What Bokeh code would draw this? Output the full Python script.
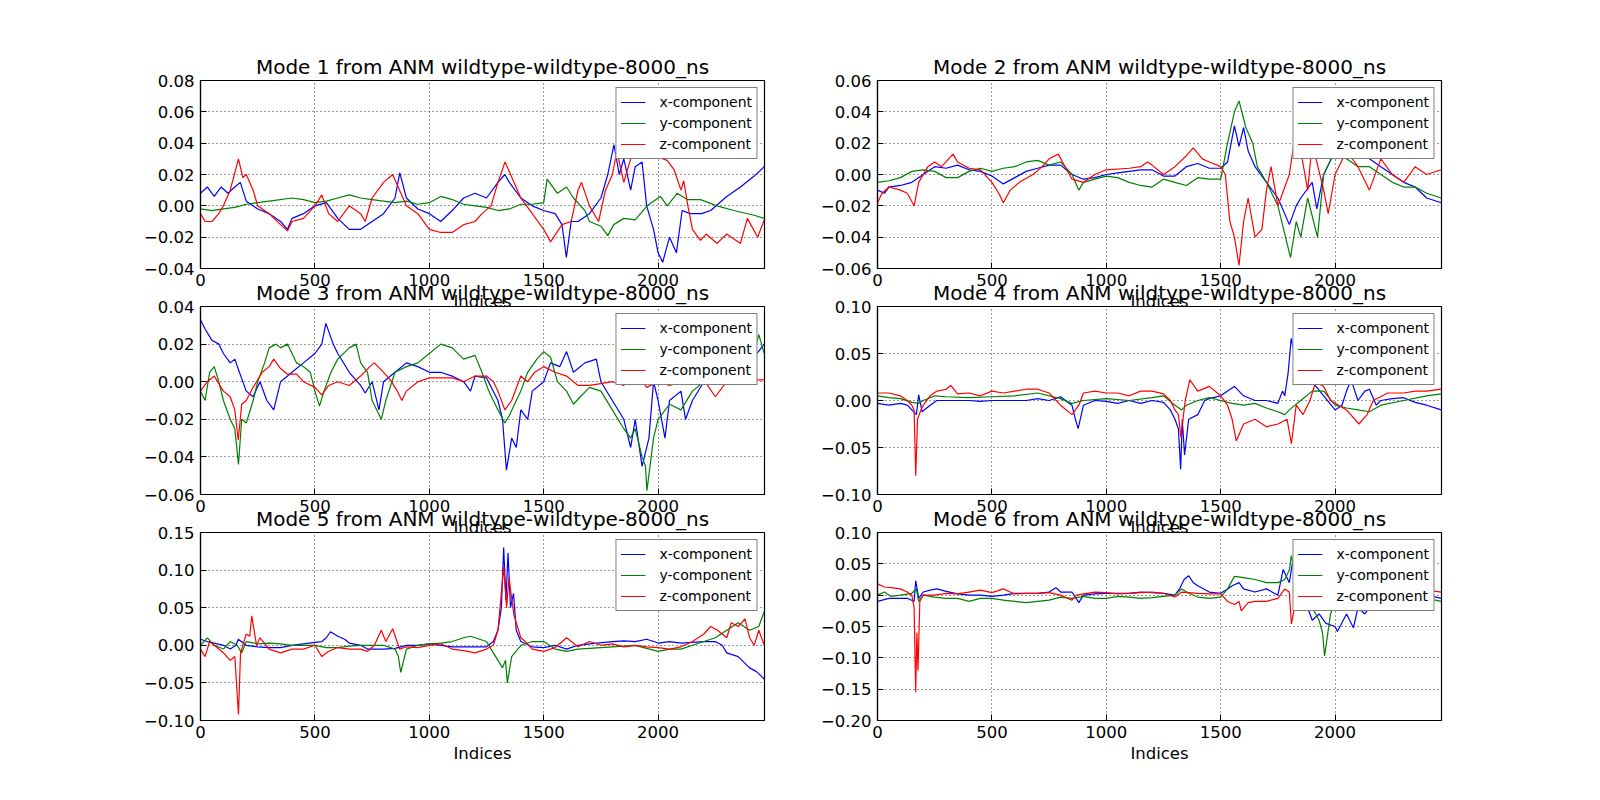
from bokeh.plotting import figure
from bokeh.layouts import column, row
from bokeh.models import (Range1d, FixedTicker, CustomJSTickFormatter,
                          Legend, LegendItem)
from bokeh.embed import file_html
from bokeh.resources import INLINE

# ---------------- data ----------------
X_END = 2465
x_ticks = [0, 500, 1000, 1500, 2000]
titles = ["Mode %d from ANM wildtype-wildtype-8000_ns" % i for i in range(1, 7)]
labels = ["x-component", "y-component", "z-component"]
x_label = "Indices"

m1_yticks = [-0.04, -0.02, 0.0, 0.02, 0.04, 0.06, 0.08]
m2_yticks = [-0.06, -0.04, -0.02, 0.0, 0.02, 0.04, 0.06]
m3_yticks = [-0.06, -0.04, -0.02, 0.0, 0.02, 0.04]
m4_yticks = [-0.10, -0.05, 0.0, 0.05, 0.10]
m5_yticks = [-0.10, -0.05, 0.0, 0.05, 0.10, 0.15]
m6_yticks = [-0.20, -0.15, -0.10, -0.05, 0.0, 0.05, 0.10]

m1_x = [(0,0.008),(30,0.012),(60,0.006),(90,0.012),(120,0.008),(150,0.012),(174,0.015),(200,0.003),(250,-0.002),(300,-0.005),(350,-0.01),(380,-0.015),(400,-0.008),(450,-0.005),(500,0.0),(550,0.002),(600,-0.008),(650,-0.015),(700,-0.015),(750,-0.01),(800,-0.005),(850,0.005),(871,0.021),(900,0.005),(950,-0.002),(1000,-0.005),(1050,-0.01),(1100,-0.003),(1150,0.005),(1200,0.008),(1250,0.005),(1300,0.015),(1330,0.02),(1350,0.015),(1400,0.005),(1450,0.0),(1500,-0.003),(1550,-0.005),(1580,-0.012),(1599,-0.033),(1620,-0.01),(1650,-0.01),(1700,-0.005),(1750,0.005),(1780,0.02),(1807,0.039),(1830,0.02),(1850,0.03),(1880,0.01),(1900,0.025),(1930,0.028),(1950,0.0),(1980,-0.015),(2000,-0.03),(2020,-0.036),(2050,-0.02),(2080,-0.03),(2105,-0.003),(2140,-0.005),(2190,-0.005),(2230,-0.003),(2300,0.006),(2360,0.012),(2420,0.019),(2464,0.025)]
m1_y = [(0,-0.002),(50,-0.003),(100,-0.002),(150,-0.001),(200,0.001),(250,0.002),(300,0.003),(400,0.005),(450,0.004),(500,0.002),(550,0.003),(600,0.005),(650,0.007),(700,0.005),(750,0.004),(800,0.003),(850,0.002),(900,0.003),(950,0.001),(1000,0.002),(1050,0.006),(1100,0.004),(1150,0.001),(1200,0.0),(1250,-0.001),(1300,-0.003),(1350,-0.002),(1400,0.001),(1450,0.001),(1500,0.002),(1515,0.017),(1560,0.008),(1600,0.012),(1630,0.005),(1680,-0.003),(1700,-0.01),(1750,-0.013),(1780,-0.019),(1806,-0.012),(1850,-0.008),(1900,-0.009),(1952,0.0),(2010,0.006),(2040,0.0),(2083,0.008),(2127,0.004),(2185,0.004),(2258,0.0),(2330,-0.003),(2420,-0.006),(2464,-0.008)]
m1_z = [(0,-0.005),(20,-0.01),(50,-0.01),(80,-0.005),(100,0.0),(130,0.01),(166,0.03),(185,0.018),(200,0.02),(230,0.01),(250,0.0),(300,-0.005),(350,-0.012),(380,-0.016),(400,-0.01),(450,-0.008),(500,0.0),(530,0.007),(560,-0.005),(600,-0.01),(650,0.0),(700,-0.005),(720,-0.01),(750,0.005),(800,0.015),(840,0.02),(870,0.01),(900,0.0),(950,-0.005),(1000,-0.015),(1050,-0.017),(1100,-0.017),(1150,-0.012),(1200,-0.01),(1230,-0.005),(1270,0.0),(1300,0.015),(1331,0.028),(1370,0.015),(1400,0.005),(1450,-0.005),(1500,-0.015),(1530,-0.023),(1580,-0.012),(1620,-0.01),(1650,0.01),(1665,0.015),(1700,0.0),(1740,-0.01),(1770,0.01),(1800,0.02),(1820,0.035),(1850,0.015),(1880,0.03),(1920,0.04),(1960,0.035),(2000,0.031),(2040,0.029),(2070,0.023),(2100,0.01),(2112,0.016),(2130,0.0),(2150,-0.015),(2185,-0.022),(2210,-0.018),(2258,-0.024),(2300,-0.018),(2360,-0.024),(2390,-0.008),(2435,-0.02),(2464,-0.009)]

m2_x = [(0,-0.01),(30,-0.012),(50,-0.008),(100,-0.007),(150,-0.005),(200,0.0),(250,0.005),(300,0.004),(350,0.006),(400,0.003),(450,0.002),(500,-0.001),(550,-0.006),(600,-0.002),(650,0.002),(700,0.004),(750,0.006),(800,0.006),(850,0.0),(900,-0.003),(950,-0.002),(1000,0.0),(1050,0.001),(1100,0.002),(1150,0.003),(1200,0.003),(1250,-0.001),(1300,-0.001),(1350,0.005),(1400,0.007),(1450,0.004),(1500,0.004),(1530,0.008),(1560,0.031),(1580,0.018),(1600,0.03),(1620,0.015),(1650,0.005),(1700,-0.005),(1750,-0.015),(1800,-0.032),(1830,-0.02),(1850,-0.015),(1900,-0.005),(1920,-0.022),(1950,0.0),(2000,0.015),(2050,0.01),(2100,0.015),(2150,0.01),(2200,0.005),(2250,0.0),(2300,-0.005),(2350,-0.008),(2400,-0.015),(2464,-0.018)]
m2_y = [(0,-0.005),(50,-0.004),(100,-0.002),(150,0.002),(200,0.003),(250,0.002),(300,-0.002),(350,-0.002),(400,0.002),(450,0.004),(500,0.002),(550,0.004),(600,0.005),(650,0.008),(700,0.009),(750,0.006),(800,0.008),(850,0.0),(880,-0.01),(900,-0.005),(950,-0.003),(1000,-0.001),(1050,-0.002),(1100,-0.005),(1150,-0.007),(1200,-0.008),(1250,-0.003),(1300,-0.005),(1350,-0.007),(1400,-0.002),(1450,-0.003),(1500,-0.003),(1530,0.02),(1560,0.04),(1580,0.047),(1610,0.03),(1640,0.02),(1660,0.005),(1700,-0.005),(1750,-0.02),(1805,-0.053),(1830,-0.03),(1850,-0.04),(1880,-0.015),(1923,-0.04),(1950,0.0),(2000,0.015),(2050,0.01),(2100,0.005),(2150,0.005),(2200,0.0),(2250,-0.005),(2300,-0.008),(2350,-0.008),(2400,-0.012),(2464,-0.015)]
m2_z = [(0,-0.018),(20,-0.012),(50,-0.008),(100,-0.01),(130,-0.012),(160,-0.02),(180,-0.005),(220,0.005),(250,0.008),(280,0.005),(330,0.013),(350,0.008),(400,0.004),(450,0.003),(500,-0.005),(530,-0.012),(550,-0.018),(580,-0.01),(620,-0.005),(680,0.0),(720,0.005),(750,0.01),(790,0.013),(820,0.005),(850,-0.003),(900,-0.005),(950,0.0),(1000,0.003),(1100,0.004),(1150,0.005),(1180,0.008),(1200,0.006),(1250,0.0),(1300,0.005),(1350,0.012),(1380,0.017),(1420,0.01),(1450,0.008),(1500,0.005),(1520,0.0),(1540,-0.03),(1560,-0.04),(1580,-0.058),(1600,-0.03),(1620,-0.015),(1650,-0.04),(1680,-0.035),(1700,-0.01),(1720,0.005),(1750,-0.02),(1800,0.0),(1820,0.02),(1850,0.015),(1880,-0.01),(1900,0.02),(1950,-0.01),(1970,-0.025),(2000,0.0),(2050,0.015),(2100,0.005),(2150,-0.01),(2200,0.01),(2250,0.0),(2300,-0.005),(2350,0.005),(2400,0.0),(2464,0.003)]

m3_x = [(0,0.033),(20,0.028),(50,0.022),(80,0.02),(100,0.015),(130,0.01),(150,0.012),(170,0.005),(200,-0.005),(230,-0.008),(260,0.0),(290,-0.01),(320,-0.015),(350,0.0),(400,0.005),(450,0.01),(500,0.015),(530,0.02),(548,0.031),(580,0.02),(600,0.015),(650,0.005),(700,-0.002),(720,-0.006),(750,0.0),(780,-0.015),(800,0.0),(850,0.005),(900,0.01),(950,0.008),(1000,0.005),(1050,0.005),(1100,0.003),(1150,0.0),(1180,-0.005),(1200,0.003),(1250,0.002),(1300,-0.01),(1320,-0.02),(1337,-0.047),(1360,-0.03),(1380,-0.035),(1400,-0.015),(1430,-0.02),(1450,-0.005),(1500,0.0),(1530,0.01),(1570,0.008),(1600,0.016),(1630,0.005),(1680,0.01),(1730,0.012),(1750,0.0),(1800,-0.01),(1850,-0.02),(1880,-0.035),(1900,-0.02),(1930,-0.045),(1960,-0.03),(1980,0.0),(2000,-0.01),(2030,-0.03),(2050,-0.01),(2100,-0.005),(2120,-0.02),(2150,-0.01),(2200,0.0),(2250,0.005),(2300,0.0),(2350,0.005),(2400,0.01),(2464,0.02)]
m3_y = [(0,-0.005),(20,-0.01),(40,0.005),(60,0.008),(80,0.0),(100,-0.01),(130,-0.02),(150,-0.025),(166,-0.044),(180,-0.02),(200,-0.022),(230,-0.01),(250,0.0),(280,0.01),(300,0.018),(330,0.02),(350,0.018),(380,0.02),(400,0.015),(420,0.01),(450,0.008),(480,0.005),(500,-0.005),(520,-0.013),(540,-0.005),(570,0.005),(600,0.012),(650,0.018),(680,0.02),(700,0.01),(730,0.005),(750,-0.01),(790,-0.02),(810,-0.01),(850,0.005),(900,0.008),(950,0.01),(1000,0.015),(1050,0.02),(1100,0.018),(1150,0.012),(1200,0.014),(1230,0.005),(1260,-0.005),(1300,-0.015),(1330,-0.022),(1350,-0.018),(1380,-0.01),(1400,-0.005),(1430,0.005),(1470,0.012),(1500,0.016),(1530,0.013),(1560,0.0),(1600,-0.005),(1630,-0.012),(1660,-0.008),(1700,-0.003),(1750,-0.005),(1800,-0.015),(1850,-0.025),(1880,-0.03),(1900,-0.025),(1930,-0.04),(1945,-0.045),(1951,-0.058),(1980,-0.03),(2000,-0.02),(2050,-0.012),(2100,-0.015),(2150,-0.005),(2200,0.0),(2300,0.0),(2400,0.005),(2440,0.025),(2464,0.015)]
m3_z = [(0,-0.005),(30,0.0),(60,0.003),(100,-0.005),(130,-0.008),(150,-0.015),(165,-0.031),(180,-0.012),(200,-0.01),(230,-0.003),(270,0.005),(300,0.008),(320,0.012),(350,0.007),(380,0.004),(420,0.004),(450,0.0),(500,-0.003),(530,-0.007),(560,-0.002),(600,0.0),(650,-0.002),(700,0.003),(740,0.008),(760,0.01),(800,0.005),(830,0.001),(860,-0.005),(880,-0.01),(900,-0.005),(950,0.0),(1000,0.002),(1100,0.002),(1150,0.0),(1200,0.003),(1250,0.003),(1280,0.0),(1300,-0.005),(1330,-0.015),(1360,-0.01),(1400,0.003),(1430,0.0),(1460,0.005),(1500,0.008),(1550,0.005),(1600,0.003),(1650,-0.002),(1700,-0.002),(1750,-0.001),(1800,0.0),(1850,-0.002),(1900,0.005),(1950,-0.003),(2000,0.0),(2050,-0.002),(2100,0.0),(2150,0.0),(2200,0.001),(2250,-0.008),(2300,0.0),(2400,0.001),(2464,0.001)]

m4_x = [(0,-0.003),(50,-0.005),(100,-0.003),(130,-0.005),(150,-0.01),(170,-0.015),(180,0.006),(195,-0.012),(230,-0.005),(260,0.0),(300,0.0),(400,0.0),(450,-0.001),(500,0.0),(550,0.0),(600,0.0),(650,0.0),(700,0.002),(750,0.0),(800,0.004),(850,-0.005),(865,-0.02),(877,-0.03),(900,-0.005),(950,0.0),(1000,-0.001),(1050,-0.003),(1100,0.0),(1150,-0.003),(1200,0.0),(1250,-0.002),(1280,-0.01),(1300,-0.02),(1315,-0.03),(1325,-0.073),(1332,-0.02),(1342,-0.058),(1360,-0.02),(1400,-0.015),(1430,0.0),(1450,0.002),(1500,0.005),(1530,0.01),(1560,0.015),(1600,0.005),(1650,0.0),(1700,0.0),(1750,-0.003),(1770,0.01),(1780,0.005),(1795,0.03),(1808,0.066),(1830,0.04),(1850,0.05),(1880,0.02),(1900,0.02),(1950,0.005),(2000,-0.01),(2030,-0.005),(2050,0.01),(2070,0.022),(2100,0.0),(2130,0.01),(2150,0.012),(2180,-0.005),(2200,0.0),(2250,0.002),(2300,0.003),(2350,-0.002),(2400,-0.005),(2464,-0.01)]
m4_y = [(0,0.005),(50,0.003),(100,0.002),(150,-0.002),(180,-0.003),(200,0.0),(250,0.005),(300,0.004),(400,0.003),(500,0.004),(600,0.005),(700,0.008),(800,0.002),(850,-0.003),(900,0.0),(1000,0.002),(1100,0.0),(1200,0.003),(1250,0.005),(1300,-0.005),(1330,-0.01),(1350,-0.005),(1400,0.0),(1450,0.003),(1500,0.0),(1550,-0.003),(1600,-0.005),(1650,-0.003),(1700,-0.008),(1750,-0.012),(1780,-0.015),(1800,-0.01),(1850,0.0),(1900,0.01),(1950,0.01),(2000,-0.005),(2050,-0.008),(2100,-0.01),(2150,-0.012),(2200,-0.005),(2300,0.0),(2400,0.005),(2464,0.007)]
m4_z = [(0,0.008),(50,0.008),(100,0.005),(130,0.0),(150,-0.005),(160,-0.01),(167,-0.08),(175,-0.02),(190,-0.01),(200,-0.005),(230,0.005),(260,0.01),(300,0.012),(320,0.016),(350,0.007),(400,0.008),(450,0.005),(500,0.01),(550,0.008),(600,0.01),(650,0.012),(700,0.012),(750,0.008),(800,-0.005),(850,-0.015),(880,-0.005),(900,0.008),(950,0.01),(1000,0.008),(1050,0.008),(1100,0.005),(1150,0.01),(1200,0.01),(1250,0.007),(1280,0.0),(1300,-0.01),(1315,-0.015),(1326,-0.039),(1345,0.0),(1365,0.022),(1400,0.01),(1450,0.015),(1500,0.005),(1530,-0.005),(1550,-0.02),(1568,-0.043),(1600,-0.025),(1650,-0.02),(1700,-0.028),(1750,-0.025),(1790,-0.02),(1809,-0.046),(1830,-0.005),(1860,-0.015),(1890,0.0),(1915,0.02),(1950,0.015),(1980,0.0),(2050,-0.01),(2104,-0.025),(2140,-0.015),(2167,0.0),(2230,0.008),(2300,0.008),(2350,0.01),(2400,0.01),(2464,0.012)]

m5_x = [(0,0.008),(30,0.005),(60,0.003),(100,0.0),(130,-0.005),(155,0.0),(165,0.008),(200,0.0),(250,-0.002),(300,-0.003),(350,-0.003),(400,0.0),(450,0.002),(500,0.004),(530,0.005),(550,0.01),(568,0.018),(600,0.012),(630,0.008),(650,0.003),(700,0.0),(730,-0.005),(800,-0.005),(850,-0.004),(900,0.0),(950,0.0),(1000,0.002),(1050,0.0),(1100,-0.002),(1150,-0.002),(1200,-0.002),(1250,-0.002),(1280,0.005),(1300,0.02),(1315,0.05),(1325,0.13),(1335,0.06),(1344,0.123),(1355,0.05),(1368,0.069),(1380,0.02),(1400,0.005),(1450,-0.002),(1500,-0.003),(1550,0.0),(1600,-0.005),(1650,0.0),(1700,0.002),(1800,0.005),(1850,0.006),(1900,0.005),(1950,0.008),(2000,0.003),(2050,0.005),(2100,0.003),(2150,0.004),(2200,0.005),(2250,0.005),(2280,0.0),(2300,-0.01),(2350,-0.015),(2400,-0.03),(2430,-0.035),(2464,-0.045)]
m5_y = [(0,0.0),(30,0.01),(60,0.0),(100,-0.005),(130,0.005),(160,0.0),(180,-0.01),(200,0.005),(250,0.002),(300,0.003),(350,0.002),(400,0.0),(450,0.0),(500,0.0),(550,-0.003),(600,-0.003),(650,-0.001),(700,0.0),(750,0.0),(800,0.0),(850,-0.005),(865,-0.015),(875,-0.036),(900,-0.005),(950,0.0),(1000,0.002),(1050,0.003),(1100,0.005),(1150,0.01),(1180,0.012),(1200,0.01),(1250,0.005),(1280,-0.01),(1300,-0.02),(1320,-0.03),(1333,-0.02),(1341,-0.05),(1360,-0.015),(1400,0.0),(1450,0.005),(1500,0.005),(1550,-0.005),(1600,-0.008),(1650,-0.005),(1700,-0.004),(1800,-0.002),(1900,0.0),(2000,-0.008),(2050,-0.005),(2100,-0.005),(2150,0.0),(2200,0.005),(2250,0.01),(2300,0.02),(2350,0.03),(2400,0.02),(2440,0.025),(2464,0.045)]
m5_z = [(0,-0.005),(20,-0.015),(40,0.005),(60,0.0),(100,-0.01),(130,-0.02),(150,-0.015),(166,-0.092),(175,-0.01),(200,0.015),(215,0.012),(224,0.039),(245,0.0),(260,0.01),(300,-0.005),(350,-0.01),(400,-0.005),(450,-0.005),(500,0.0),(530,-0.015),(560,-0.008),(600,-0.003),(650,-0.005),(700,-0.005),(730,-0.008),(760,0.0),(790,0.02),(810,0.005),(840,0.022),(870,-0.005),(900,-0.002),(950,-0.003),(1000,0.0),(1050,0.002),(1100,-0.005),(1150,-0.007),(1200,-0.01),(1250,-0.005),(1280,0.0),(1300,0.02),(1315,0.07),(1325,0.105),(1338,0.05),(1348,0.09),(1370,0.04),(1400,0.01),(1420,0.005),(1450,-0.005),(1500,-0.008),(1550,-0.003),(1600,0.01),(1650,-0.002),(1700,0.005),(1750,0.0),(1800,0.002),(1850,-0.002),(1900,0.0),(1950,-0.002),(2000,-0.003),(2050,-0.005),(2100,-0.002),(2150,0.005),(2200,0.015),(2230,0.025),(2260,0.02),(2300,0.01),(2320,0.03),(2350,0.025),(2380,0.035),(2400,0.01),(2420,0.0),(2440,0.02),(2464,0.0)]

m6_x = [(0,-0.01),(50,-0.005),(100,-0.005),(130,-0.005),(160,-0.01),(167,0.023),(180,-0.005),(200,0.005),(230,0.008),(260,0.01),(300,0.006),(350,0.002),(400,0.0),(450,0.0),(500,-0.002),(550,0.0),(600,0.003),(650,0.003),(700,0.003),(750,0.005),(780,0.012),(800,0.005),(850,0.005),(880,-0.012),(900,0.0),(950,0.002),(1000,0.003),(1050,0.003),(1100,0.003),(1150,0.005),(1200,0.004),(1250,0.003),(1300,0.0),(1320,0.01),(1340,0.025),(1360,0.031),(1380,0.02),(1400,0.015),(1450,0.005),(1500,0.003),(1530,0.01),(1550,0.015),(1580,0.02),(1600,0.01),(1650,0.005),(1700,0.01),(1750,0.0),(1773,0.041),(1800,0.02),(1815,0.055),(1850,0.005),(1880,-0.02),(1900,-0.04),(1930,-0.03),(1960,-0.045),(2000,-0.05),(2010,-0.058),(2050,-0.03),(2080,-0.052),(2100,-0.02),(2130,-0.03),(2150,-0.02),(2200,0.0),(2300,0.005),(2400,0.0),(2464,-0.005)]
m6_y = [(0,0.0),(30,0.005),(60,-0.002),(100,0.0),(150,0.003),(170,0.01),(180,-0.01),(200,0.0),(250,-0.003),(300,-0.005),(350,-0.005),(400,-0.01),(450,-0.005),(500,-0.005),(550,-0.008),(600,-0.01),(650,-0.012),(700,-0.01),(750,-0.008),(800,-0.003),(850,-0.005),(900,-0.002),(950,-0.005),(1000,-0.005),(1050,-0.002),(1100,-0.003),(1150,-0.005),(1200,-0.004),(1250,-0.002),(1300,0.0),(1330,0.01),(1360,0.003),(1400,-0.003),(1450,-0.005),(1500,-0.003),(1530,0.01),(1560,0.03),(1600,0.028),(1650,0.025),(1700,0.02),(1750,0.02),(1780,0.025),(1800,0.04),(1809,0.063),(1830,0.02),(1860,0.0),(1900,-0.02),(1930,-0.04),(1945,-0.06),(1954,-0.097),(1980,-0.03),(2000,-0.01),(2050,0.0),(2100,-0.005),(2200,-0.005),(2300,0.0),(2400,-0.005),(2464,-0.01)]
m6_z = [(0,0.018),(30,0.013),(60,0.012),(100,0.01),(130,0.005),(150,0.0),(160,-0.02),(167,-0.155),(172,-0.06),(177,-0.12),(185,-0.01),(200,0.0),(250,0.0),(300,0.003),(350,0.002),(400,0.005),(450,0.008),(500,0.004),(550,0.01),(580,0.005),(600,0.002),(650,0.003),(700,0.003),(750,0.004),(800,0.0),(850,-0.008),(870,0.0),(900,0.002),(950,0.005),(1000,0.004),(1050,0.002),(1100,0.003),(1150,0.004),(1200,0.005),(1250,0.003),(1300,-0.003),(1330,0.005),(1400,0.003),(1450,0.002),(1500,0.002),(1530,-0.01),(1560,-0.015),(1580,-0.01),(1590,-0.025),(1620,-0.012),(1650,-0.01),(1700,-0.01),(1750,-0.005),(1780,0.01),(1800,0.005),(1809,-0.046),(1830,-0.005),(1860,-0.01),(1900,0.0),(2000,0.005),(2100,0.0),(2200,0.005),(2300,0.01),(2400,0.008),(2464,0.005)]

modes = [
    (m1_x, m1_y, m1_z, (-0.04, 0.08), m1_yticks),
    (m2_x, m2_y, m2_z, (-0.06, 0.06), m2_yticks),
    (m3_x, m3_y, m3_z, (-0.06, 0.04), m3_yticks),
    (m4_x, m4_y, m4_z, (-0.10, 0.10), m4_yticks),
    (m5_x, m5_y, m5_z, (-0.10, 0.15), m5_yticks),
    (m6_x, m6_y, m6_z, (-0.20, 0.10), m6_yticks),
]
colors = ["#0000ff", "#008000", "#ff0000"]

# ---------------- layout ----------------
FW, FH = 564, 188
COLS = [dict(left=200, right=4), dict(left=109, right=143)]
ROWS = [dict(top=80, bottom=52), dict(top=34, bottom=52), dict(top=34, bottom=64)]
OVERLAP = 52 + 34 - 38          # rows overlap so that titles and x labels share space
FONT = "DejaVu Sans"

yfmt_code = """
const v = Math.abs(tick) < 1e-9 ? 0 : tick;
const s = Math.abs(v).toFixed(2);
return v < 0 ? "\\u2212" + s : s;
"""


def style_axis(ax):
    ax.axis_line_color = "black"
    ax.axis_line_width = 1.2
    ax.major_tick_in = 6
    ax.major_tick_out = 0
    ax.minor_tick_in = 0
    ax.minor_tick_out = 0
    ax.major_tick_line_color = "black"
    ax.major_tick_line_width = 1
    ax.major_label_text_font = FONT
    ax.major_label_text_color = "black"
    ax.major_label_text_font_size = "16.5px"


figs = []
for i, (sx, sy, sz, ylim, yt) in enumerate(modes):
    c, r = i % 2, i // 2
    C, R = COLS[c], ROWS[r]
    lo, hi = ylim
    p = figure(width=C["left"] + FW + C["right"], height=R["top"] + FH + R["bottom"],
               output_backend="svg", toolbar_location=None, title=titles[i],
               x_range=Range1d(0, X_END), y_range=Range1d(lo, hi),
               min_border_left=C["left"], min_border_right=C["right"],
               min_border_top=R["top"], min_border_bottom=R["bottom"],
               background_fill_color="white", border_fill_color=None,
               outline_line_color="black", outline_line_width=1.2)
    p.title.align = "center"
    p.title.text_font = FONT
    p.title.text_font_size = "20px"
    p.title.text_font_style = "normal"
    p.title.text_color = "black"
    p.title.standoff = 3

    xt = FixedTicker(ticks=x_ticks)
    ytk = FixedTicker(ticks=yt)
    xa = p.xaxis[0]
    ya = p.yaxis[0]
    xa.ticker = xt
    ya.ticker = ytk
    ya.formatter = CustomJSTickFormatter(code=yfmt_code)
    style_axis(xa)
    style_axis(ya)
    xa.major_label_standoff = 5
    ya.major_label_standoff = 6
    xa.axis_label = x_label
    xa.axis_label_text_font = FONT
    xa.axis_label_text_font_size = "16.5px"
    xa.axis_label_text_font_style = "normal"
    xa.axis_label_text_color = "black"
    xa.axis_label_standoff = 3

    for g in (p.xgrid[0], p.ygrid[0]):
        g.grid_line_color = "black"
        g.grid_line_dash = "1 3"
        g.grid_line_width = 0.8
    p.xgrid[0].ticker = xt
    p.ygrid[0].ticker = ytk

    items = []
    for pts, col, lab in zip((sx, sy, sz), colors, labels):
        xs = [a for a, b in pts]
        ys = [b for a, b in pts]
        rr = p.line(xs, ys, line_color=col, line_width=1.2)
        items.append(LegendItem(label=lab, renderers=[rr]))
    leg = Legend(items=items, location="top_right", margin=7, padding=4, spacing=1,
                 glyph_height=20, label_height=20, glyph_width=25, label_standoff=14,
                 label_text_font=FONT, label_text_font_size="14px",
                 label_text_color="black",
                 border_line_color="black", border_line_width=1.2,
                 background_fill_color="white", background_fill_alpha=1.0)
    p.add_layout(leg)
    figs.append(p)

layout = column(
    row(figs[0], figs[1]),
    row(figs[2], figs[3], margin=(-OVERLAP, 0, 0, 0)),
    row(figs[4], figs[5], margin=(-OVERLAP, 0, 0, 0)),
)

with open("out.html", "w", encoding="utf-8") as fh:
    fh.write(file_html(layout, INLINE))
